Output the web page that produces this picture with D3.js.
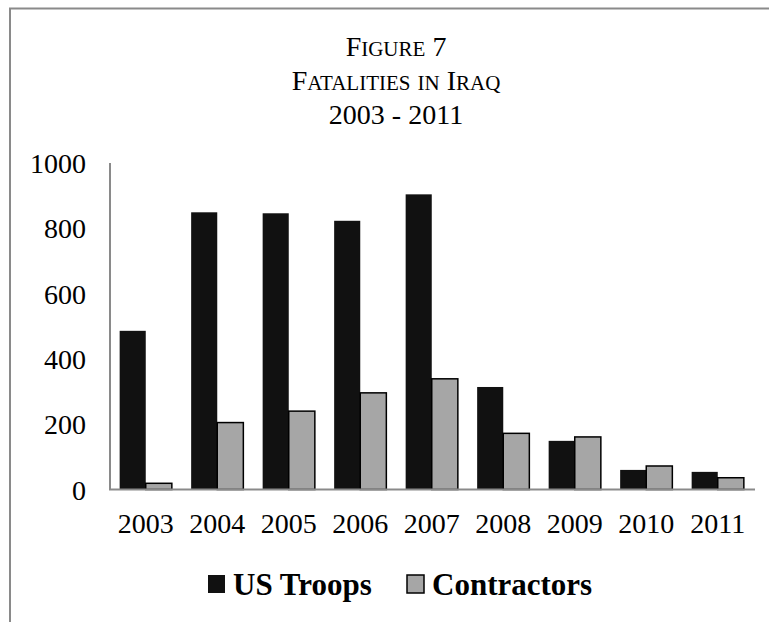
<!DOCTYPE html>
<html>
<head>
<meta charset="utf-8">
<script src="https://cdn.jsdelivr.net/npm/d3@7"></script>
<style>
    body { margin: 0; background: #fff; }
    svg { display: block; font-family: "Liberation Serif", "Times New Roman", serif; }
</style>
</head>
<body>
<svg width="769" height="622"></svg>
<script>
// data
var years = ["2003", "2004", "2005", "2006", "2007", "2008", "2009", "2010", "2011"];
var usTroops = [486, 849, 846, 823, 904, 314, 149, 60, 54];
var contractors = [19, 205, 240, 296, 339, 172, 161, 72, 36];
var seriesNames = ["US Troops", "Contractors"];
var yTicks = [0, 200, 400, 600, 800, 1000];
var titleLines = ["Figure 7", "Fatalities in Iraq", "2003 - 2011"];

var svg = d3.select("svg");
var colors = { "US Troops": "#111111", "Contractors": "#a6a6a6" };

var rows = years.map(function(y, i) {
    return { year: y, "US Troops": usTroops[i], "Contractors": contractors[i] };
});

// outer frame (cropped on the right / bottom)
svg.append("path")
    .attr("d", "M10,640 L10,8.5 L780,8.5")
    .attr("fill", "none")
    .attr("stroke", "#8a8a8a")
    .attr("stroke-width", 2);

// title, small caps built by hand
var title = svg.append("text")
    .attr("text-anchor", "middle")
    .attr("fill", "#000");

titleLines.forEach(function(line, i) {
    var t = title.append("tspan")
        .attr("x", 396)
        .attr("y", 56 + i * 34);
    var parts = line.match(/[A-Z0-9 \-]+|[a-z]+/g);
    parts.forEach(function(p) {
        var lower = /^[a-z]+$/.test(p);
        t.append("tspan")
            .attr("font-size", lower ? 21 : 28)
            .text(lower ? p.toUpperCase() : p);
    });
});

var x0 = d3.scaleBand()
    .domain(years)
    .range([110, 753.5])
    .paddingInner(0.27)
    .paddingOuter(0.135);

var x1 = d3.scaleBand()
    .domain(seriesNames)
    .range([0, x0.bandwidth()]);

var y = d3.scaleLinear()
    .domain([0, 1000])
    .range([489.5, 163]);

// y tick labels
svg.append("g")
    .selectAll("text")
    .data(yTicks)
    .enter()
    .append("text")
        .attr("x", 86)
        .attr("y", function(d) { return y(d) + 10; })
        .attr("text-anchor", "end")
        .attr("font-size", 28)
        .text(function(d) { return d; });

// bars
var groups = svg.append("g")
    .selectAll("g")
    .data(rows)
    .enter()
    .append("g")
        .attr("transform", function(d) { return "translate(" + x0(d.year) + ",0)"; });

groups.selectAll("rect")
    .data(function(d) {
        return seriesNames.map(function(s) { return { key: s, value: d[s] }; });
    })
    .enter()
    .append("rect")
        .attr("x", function(d) { return x1(d.key); })
        .attr("y", function(d) { return y(d.value); })
        .attr("width", x1.bandwidth())
        .attr("height", function(d) { return y(0) - y(d.value); })
        .attr("fill", function(d) { return colors[d.key]; })
        .attr("stroke", function(d) { return d.key == "Contractors" ? "#000" : "none"; })
        .attr("stroke-width", 1.5);

// axis lines
svg.append("line")
    .attr("x1", 110).attr("x2", 110)
    .attr("y1", y(1000)).attr("y2", y(0))
    .attr("stroke", "#8a8a8a")
    .attr("stroke-width", 2);

svg.append("line")
    .attr("x1", 109).attr("x2", 755)
    .attr("y1", y(0)).attr("y2", y(0))
    .attr("stroke", "#8a8a8a")
    .attr("stroke-width", 2);

// x labels
svg.append("g")
    .selectAll("text")
    .data(years)
    .enter()
    .append("text")
        .attr("x", function(d) { return x0(d) + x0.bandwidth() / 2; })
        .attr("y", 533)
        .attr("text-anchor", "middle")
        .attr("font-size", 28)
        .text(function(d) { return d; });

// legend
var legendX = [208, 407];
var legend = svg.append("g")
    .selectAll("g")
    .data(seriesNames)
    .enter()
    .append("g")
        .attr("transform", function(d, i) { return "translate(" + legendX[i] + ",575)"; });

legend.append("rect")
    .attr("width", 17)
    .attr("height", 18)
    .attr("fill", function(d) { return colors[d]; })
    .attr("stroke", function(d) { return d == "Contractors" ? "#000" : "none"; })
    .attr("stroke-width", 1.5);

legend.append("text")
    .attr("x", 25)
    .attr("y", 20)
    .attr("font-size", 31)
    .attr("font-weight", "bold")
    .text(function(d) { return d; });
</script>
</body>
</html>
